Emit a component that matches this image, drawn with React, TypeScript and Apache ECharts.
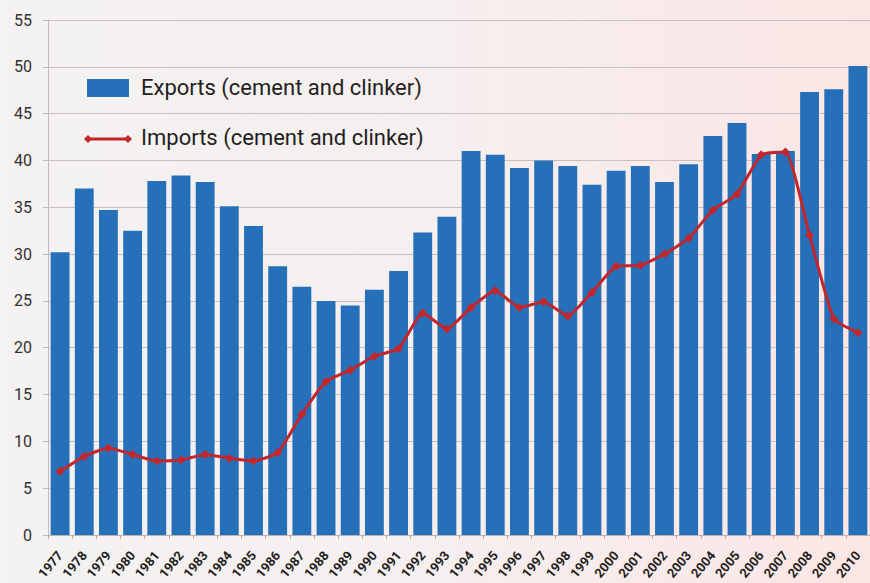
import React, { useEffect, useRef } from "react";
import * as echarts from "echarts";

const years = [
  "1977","1978","1979","1980","1981","1982","1983","1984","1985","1986",
  "1987","1988","1989","1990","1991","1992","1993","1994","1995","1996",
  "1997","1998","1999","2000","2001","2002","2003","2004","2005","2006",
  "2007","2008","2009","2010",
];
const exportsData = [
  30.2, 37.0, 34.7, 32.5, 37.8, 38.4, 37.7, 35.1, 33.0, 28.7,
  26.5, 25.0, 24.5, 26.2, 28.2, 32.3, 34.0, 41.0, 40.6, 39.2,
  40.0, 39.4, 37.4, 38.9, 39.4, 37.7, 39.6, 42.6, 44.0, 40.7,
  41.0, 47.3, 47.6, 50.1,
];
const importsData = [
  6.8, 8.4, 9.3, 8.6, 7.9, 8.0, 8.6, 8.2, 7.9, 8.8,
  12.9, 16.4, 17.6, 19.1, 19.9, 23.7, 22.0, 24.3, 26.1, 24.3,
  24.9, 23.4, 25.9, 28.7, 28.8, 30.0, 31.7, 34.7, 36.4, 40.6,
  40.9, 32.0, 23.1, 21.6,
];
const legendLabels = ["Exports (cement and clinker)", "Imports (cement and clinker)"];

const BLUE = "#2670b9";
const RED = "#c1272d";
const FONT = "Roboto, 'Open Sans', sans-serif";

export default function App() {
  const ref = useRef<HTMLDivElement>(null);
  useEffect(() => {
    if (!ref.current) return;
    const chart = echarts.init(ref.current, null, { renderer: "svg" });
    const diamond = (cx: number, cy: number) => ({
      type: "polygon",
      shape: { points: [[cx, cy - 4], [cx + 4, cy], [cx, cy + 4], [cx - 4, cy]] },
      style: { fill: RED },
      z: 100,
    });
    chart.setOption({
      animation: false,
      backgroundColor: "transparent",
      grid: { left: 48, right: -4, top: 20, bottom: 48, containLabel: false },
      xAxis: {
        type: "category",
        data: years,
        axisLine: { show: true, lineStyle: { color: "#b9b3b3", width: 1 } },
        axisTick: { show: true, length: 4, lineStyle: { color: "#c9a9a0" } },
        axisLabel: {
          rotate: 50,
          interval: 0,
          margin: 18,
          fontFamily: FONT,
          fontSize: 13,
          fontWeight: "bold",
          color: "#231f20",
        },
      },
      yAxis: {
        type: "value",
        min: 0,
        max: 55,
        interval: 5,
        axisLine: { show: true, lineStyle: { color: "#c0baba", width: 1 } },
        axisTick: { show: true, length: 5, lineStyle: { color: "#c0baba" } },
        splitLine: { show: true, lineStyle: { color: "#c6c0c0", width: 1 } },
        axisLabel: {
          margin: 16,
          fontFamily: FONT,
          fontSize: 16,
          color: "#333030",
        },
      },
      series: [
        {
          name: legendLabels[0],
          type: "bar",
          data: exportsData,
          barCategoryGap: "22%",
          itemStyle: { color: BLUE },
        },
        {
          name: legendLabels[1],
          type: "line",
          data: importsData,
          smooth: 0.15,
          symbol: "diamond",
          symbolSize: 9,
          lineStyle: { color: RED, width: 3 },
          itemStyle: { color: RED },
          z: 5,
        },
      ],
      graphic: [
        { type: "rect", shape: { x: 87, y: 79, width: 42, height: 18 }, style: { fill: BLUE } },
        {
          type: "text",
          x: 141,
          y: 87,
          style: { text: legendLabels[0], fontFamily: FONT, fontSize: 22, fill: "#231f20", verticalAlign: "middle" },
        },
        { type: "line", shape: { x1: 88, y1: 139, x2: 128, y2: 139 }, style: { stroke: RED, lineWidth: 3 } },
        diamond(88, 139),
        diamond(128, 139),
        {
          type: "text",
          x: 141,
          y: 137,
          style: { text: legendLabels[1], fontFamily: FONT, fontSize: 22, fill: "#231f20", verticalAlign: "middle" },
        },
      ],
    });
    return () => chart.dispose();
  }, []);
  return (
    <div
      style={{
        position: "fixed",
        left: 0,
        top: 0,
        width: 870,
        height: 583,
        background: "linear-gradient(to right, #f4f2f2 0%, #f6efef 50%, #fbe6e5 100%)",
      }}
    >
      <div ref={ref} style={{ width: 870, height: 583 }} />
    </div>
  );
}
